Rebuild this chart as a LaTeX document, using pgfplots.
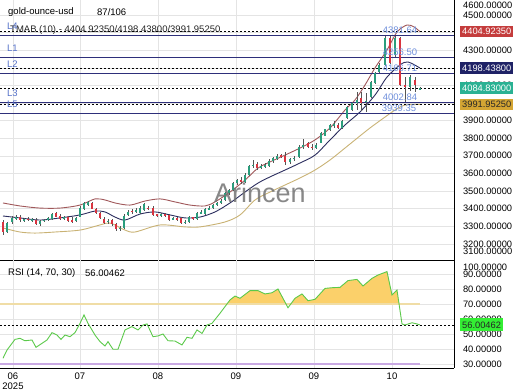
\documentclass[border=0pt]{standalone}
\usepackage{fontspec}
\setmainfont{Liberation Sans}
\usepackage{pgfplots}
\usepackage{pgfplotstable}
\pgfplotsset{compat=1.18}

\definecolor{candG}{HTML}{2A9D7C}
\definecolor{candR}{HTML}{D9343F}
\definecolor{wick}{HTML}{555555}
\definecolor{bandU}{HTML}{A0585A}
\definecolor{bandM}{HTML}{2B2D5E}
\definecolor{bandL}{HTML}{C9B274}
\definecolor{lvl}{HTML}{2E2F7A}
\definecolor{lbl}{HTML}{5470C8}
\definecolor{vlbl}{HTML}{6F8FDB}
\definecolor{gridc}{HTML}{E4E4E4}
\definecolor{rsiG}{HTML}{5BC94A}
\definecolor{rsiFill}{HTML}{FBD06A}
\definecolor{ob}{HTML}{F0DDA6}
\definecolor{os}{HTML}{C9A9E3}
\definecolor{boxR}{HTML}{C43C3C}
\definecolor{boxN}{HTML}{1F2266}
\definecolor{boxT}{HTML}{2AB193}
\definecolor{boxY}{HTML}{D4A533}
\definecolor{boxG}{HTML}{33EE33}

\pgfplotstableread{
x o h l c
7 3268 3325 3260 3318
12 3322 3358 3315 3345
16 3345 3365 3335 3352
24 3333 3348 3325 3340
32 3336 3346 3326 3338
40 3310 3338 3300 3330
44 3330 3342 3322 3335
48 3335 3352 3330 3345
52 3342 3375 3336 3368
64 3345 3360 3338 3350
76 3328 3352 3322 3345
80 3355 3412 3350 3405
84 3395 3440 3390 3430
88 3420 3445 3412 3435
108 3322 3340 3315 3332
120 3285 3300 3275 3290
124 3290 3368 3282 3360
128 3365 3392 3358 3380
136 3382 3402 3375 3392
140 3375 3412 3370 3405
144 3390 3432 3385 3425
161 3362 3375 3355 3368
173 3340 3355 3335 3345
185 3320 3335 3315 3325
189 3325 3358 3318 3350
197 3340 3382 3335 3375
201 3375 3390 3368 3380
205 3370 3402 3365 3395
209 3395 3412 3390 3405
213 3405 3428 3400 3420
217 3418 3440 3412 3432
221 3430 3452 3425 3445
225 3450 3495 3445 3488
229 3488 3512 3480 3505
233 3505 3550 3498 3545
237 3545 3570 3535 3560
245 3550 3600 3545 3590
249 3590 3650 3585 3640
253 3640 3675 3630 3650
261 3630 3655 3625 3640
265 3640 3658 3630 3645
269 3640 3680 3635 3670
273 3668 3692 3660 3685
277 3680 3708 3675 3700
290 3662 3690 3655 3680
294 3680 3700 3670 3690
299 3695 3760 3690 3750
303 3750 3795 3740 3760
316 3745 3770 3740 3760
321 3775 3835 3770 3830
325 3815 3855 3810 3850
330 3845 3880 3838 3875
334 3875 3895 3860 3878
342 3858 3905 3852 3900
347 3915 3985 3910 3977
352 3960 4005 3955 3999
357 4000 4060 3960 4017
366 4005 4055 3950 4012
371 4034 4125 4030 4119
375 4113 4175 4105 4170
379 4176 4225 4170 4216
385 4216 4378 4210 4369
395 4273 4381.64 4260 4369
410 4090 4160 4070 4148
420 4078 4092 4075 4084.83
}\greencandles

\pgfplotstableread{
x o h l c
3 3325 3335 3250 3268
20 3355 3362 3325 3333
28 3342 3350 3328 3336
36 3338 3345 3305 3312
56 3375 3380 3350 3355
60 3360 3368 3335 3340
68 3355 3360 3322 3330
72 3338 3350 3318 3325
92 3432 3440 3395 3400
96 3398 3405 3368 3375
100 3375 3380 3340 3345
104 3342 3350 3315 3320
112 3335 3340 3300 3310
116 3312 3318 3275 3285
132 3388 3400 3370 3382
148 3405 3415 3392 3398
153 3405 3412 3358 3365
157 3365 3372 3355 3362
165 3368 3375 3355 3360
169 3362 3368 3330 3335
177 3345 3352 3332 3342
181 3345 3350 3312 3320
193 3348 3355 3338 3345
241 3560 3578 3540 3550
257 3655 3662 3620 3630
281 3705 3712 3685 3695
285 3700 3720 3650 3662
308 3772 3780 3745 3750
312 3750 3765 3735 3745
338 3875 3885 3850 3858
361 4028 4060 3955 4000
390 4369 4380 4220 4227
400 4369 4375 4095 4102
405 4102 4150 4002.84 4090
415 4130 4145 4065 4100
}\redcandles

\pgfplotstableread{
x u
3 3432
20 3415
40 3403
60 3403
80 3420
95 3455
105 3449
115 3432
130 3420
145 3443
160 3455
175 3438
190 3420
205 3415
215 3438
230 3494
245 3562
258 3630
270 3665
285 3704
300 3744
315 3790
330 3858
345 3960
355 4017
365 4102
375 4199
387 4301
397 4403
407 4443
414 4432
420 4404.92
}\bandup

\pgfplotstableread{
x m
3 3358
20 3347
40 3335
60 3347
80 3364
95 3386
105 3381
115 3352
125 3335
140 3369
155 3381
170 3364
185 3347
200 3352
215 3381
230 3432
245 3494
258 3545
270 3580
285 3619
300 3659
315 3704
330 3790
345 3875
360 3949
375 4045
387 4147
400 4216
408 4233
420 4198.44
}\bandmid

\pgfplotstableread{
x d
3 3290
20 3267
35 3261
55 3267
80 3278
100 3307
110 3318
125 3278
135 3267
160 3307
185 3296
200 3296
225 3324
240 3364
255 3449
270 3494
285 3534
300 3574
315 3619
330 3676
345 3744
355 3790
370 3858
385 3920
395 3960
405 3988
420 3991.95
}\bandlow

\pgfplotstableread{
x r
3 33.8
7 39.3
15 46.4
20 47.1
25 45.5
32 46.0
36 41.1
42 43.8
47 46.0
52 50.9
57 49.3
61 46.4
65 49.3
70 48.2
75 50.9
80 57.1
84 62.7
88 57.1
95 49.3
100 44.9
105 42.0
108 44.9
113 39.8
118 39.8
125 52.7
132 54.9
135 53.8
138 52.7
143 56.0
147 56.7
153 48.2
158 48.7
163 50.0
168 45.5
175 45.3
182 42.7
187 47.8
192 47.1
197 52.7
202 50.4
207 56.0
212 57.1
220 63.8
230 72.7
235 75.3
240 73.8
250 78.9
258 78.9
265 76.7
272 77.5
278 80.0
288 67.5
295 73.8
302 76.7
308 72.2
315 73.1
325 80.4
333 80.9
340 81.1
348 85.6
357 86.4
363 82.0
372 87.1
378 89.3
387 91.6
392 76.0
397 79.3
402 56.7
405 56.0
412 57.5
417 56.7
420 56.00462
}\rsidata

\pgfplotsset{
  chartbase/.style={
    scale only axis, width=454pt, xmin=0, xmax=454,
    axis x line*=bottom, axis y line*=right,
    axis line style={black, line width=0.8pt},
    major tick length=0pt,
    grid=major, major grid style={gridc, line width=0.5pt},
    xtick={13,80,158,236,314,392},
    tick label style={font=\fontsize{9.3}{11}\selectfont},
    yticklabel style={xshift=5.5pt, anchor=west},
    /pgf/number format/.cd, fixed, fixed zerofill, precision=5, 1000 sep={}, assume math mode=true,
  },
  wickstyle/.style={draw=none, mark=none, forget plot,
    error bars/.cd, y dir=both, y explicit, error mark=none,
    error bar style={draw=wick, line width=0.6pt}},
}

\begin{document}
\begin{tikzpicture}
\path[use as bounding box] (0pt,0pt) rectangle (520pt,-390pt);

% ---------- main price panel ----------
\begin{axis}[chartbase, at={(0pt,0pt)}, anchor=north west, height=260pt,
  ymin=3108, ymax=4585, ytick={3200,3300,...,4500}, xticklabels={}]

% bands
\addplot[bandU, line width=0.9pt, smooth] table[x=x,y=u] {\bandup};
\addplot[bandM, line width=0.9pt, smooth] table[x=x,y=m] {\bandmid};
\addplot[bandL, line width=0.9pt, smooth] table[x=x,y=d] {\bandlow};

% level lines
\addplot[lvl, line width=1.1pt] coordinates {(0,4381.64) (454,4381.64)};
\addplot[lvl, line width=1.1pt] coordinates {(0,4256.50) (454,4256.50)};
\addplot[lvl, line width=1.1pt] coordinates {(0,4166.71) (454,4166.71)};
\addplot[lvl, line width=1.1pt] coordinates {(0,4002.84) (454,4002.84)};
\addplot[lvl, line width=1.1pt] coordinates {(0,3939.35) (454,3939.35)};
% dashed current-value lines
\addplot[black, line width=0.6pt, dash pattern=on 2pt off 2pt] coordinates {(0,4404.9235) (454,4404.9235)};
\addplot[black, line width=0.6pt, dash pattern=on 2pt off 2pt] coordinates {(0,4198.438) (454,4198.438)};
\addplot[black, line width=0.6pt, dash pattern=on 2pt off 2pt] coordinates {(0,4084.83) (454,4084.83)};
\addplot[black, line width=0.6pt, dash pattern=on 2pt off 2pt] coordinates {(0,3991.9525) (454,3991.9525)};

% candles: wicks
\addplot[wickstyle] table[x=x, y expr={(\thisrow{h}+\thisrow{l})/2}, y error expr={(\thisrow{h}-\thisrow{l})/2}] {\greencandles};
\addplot[wickstyle] table[x=x, y expr={(\thisrow{h}+\thisrow{l})/2}, y error expr={(\thisrow{h}-\thisrow{l})/2}] {\redcandles};
% candles: bodies
\addplot[draw=none, mark=none, forget plot, error bars/.cd, y dir=both, y explicit, error mark=none,
  error bar style={draw=candG, line width=2.8pt}]
  table[x=x, y expr={(\thisrow{o}+\thisrow{c})/2}, y error expr={max(abs(\thisrow{o}-\thisrow{c})/2,3)}] {\greencandles};
\addplot[draw=none, mark=none, forget plot, error bars/.cd, y dir=both, y explicit, error mark=none,
  error bar style={draw=candR, line width=2.8pt}]
  table[x=x, y expr={(\thisrow{o}+\thisrow{c})/2}, y error expr={max(abs(\thisrow{o}-\thisrow{c})/2,3)}] {\redcandles};

\coordinate (L4) at (axis cs:7,4381.64);
\coordinate (L1) at (axis cs:7,4256.50);
\coordinate (L2) at (axis cs:7,4166.71);
\coordinate (L3) at (axis cs:7,4002.84);
\coordinate (L5) at (axis cs:7,3939.35);
\coordinate (V4) at (axis cs:400,4381.64);
\coordinate (V1) at (axis cs:400,4256.50);
\coordinate (V2) at (axis cs:400,4166.71);
\coordinate (V3) at (axis cs:400,4002.84);
\coordinate (V5) at (axis cs:399,3939.35);
\coordinate (BU) at (axis cs:454,4404.9235);
\coordinate (BM) at (axis cs:454,4198.438);
\coordinate (BC) at (axis cs:454,4084.83);
\coordinate (BL) at (axis cs:454,3991.9525);
\end{axis}

% ---------- RSI panel ----------
\begin{axis}[chartbase, at={(0pt,-260pt)}, anchor=north west, height=108pt,
  ymin=27.33, ymax=99.33, ytick={30,40,...,90},
  xticklabels={06,07,08,09,09,10},
  xticklabel style={font=\fontsize{9.5}{11}\selectfont, yshift=-1pt}]
\addplot[rsiFill, fill=rsiFill, draw=none, forget plot] coordinates {
(227,70) (230,72.7) (235,75.3) (240,73.8) (250,78.9) (258,78.9) (265,76.7) (272,77.5) (278,80.0) (286,70)};
\addplot[rsiFill, fill=rsiFill, draw=none, forget plot] coordinates {
(291,70) (295,73.8) (302,76.7) (308,72.2) (315,73.1) (325,80.4) (333,80.9) (340,81.1) (348,85.6) (357,86.4) (363,82.0) (372,87.1) (378,89.3) (387,91.6) (392,76.0) (397,79.3) (399,70)};
\addplot[ob, line width=1.2pt] coordinates {(0,70) (420,70)};
\addplot[os, line width=1.6pt] coordinates {(0,30) (420,30)};
\addplot[black, line width=0.6pt, dash pattern=on 2pt off 2pt] coordinates {(0,56.00462) (454,56.00462)};
\addplot[rsiG, line width=0.9pt] table[x=x,y=r] {\rsidata};
\coordinate (BR) at (axis cs:454,56.00462);
\end{axis}

% ---------- texts ----------
\begin{scope}[every node/.style={font=\fontsize{9.5}{11}\selectfont, inner sep=0pt}]
\node[anchor=west] at (8pt,-12pt) {gold-ounce-usd};
\node[anchor=west] at (97pt,-12pt) {87/106};
\node[anchor=west, text=black!85] at (10pt,-30pt) {TMAB (10) - 4404.92350/4198.43800/3991.95250};
\node[anchor=west] at (8pt,-273pt) {RSI (14, 70, 30)};
\node[anchor=west] at (85pt,-273pt) {56.00462};
\node[anchor=base] at (13pt,-389pt) {2025};
\foreach \n in {L4,L1,L2,L3,L5}{
  \node[anchor=base west, text=lbl, yshift=6pt] at (\n) {\n};
}
\node[anchor=base, text=vlbl, yshift=2pt] at (V4) {4381.64};
\node[anchor=base, text=vlbl, yshift=2pt] at (V1) {4256.50};
\node[anchor=base, text=vlbl, yshift=2pt] at (V2) {4166.71};
\node[anchor=base, text=vlbl, yshift=2pt] at (V3) {4002.84};
\node[anchor=base, text=vlbl, yshift=2pt] at (V5) {3939.35};
\end{scope}

\node[font=\fontsize{27}{30}\selectfont, text=black!55, opacity=0.85] at (260pt,-193pt) {Arincen};

% clamped edge tick labels
\begin{scope}[every node/.style={font=\fontsize{9.3}{11}\selectfont, anchor=west, inner sep=0pt}]
\node at (463pt,-5pt) {4600.00000};
\node at (463pt,-251pt) {3100.00000};
\node at (463pt,-267pt) {100.00000};
\end{scope}

% value boxes
\begin{scope}[every node/.style={font=\fontsize{9.3}{11}\selectfont, anchor=west, inner xsep=2pt, inner ysep=0pt, minimum height=11.5pt}]
\node[fill=boxR, text=white, xshift=6pt] at (BU) {4404.92350};
\node[fill=boxN, text=white, xshift=6pt] at (BM) {4198.43800};
\node[fill=boxT, text=white, xshift=6pt] at (BC) {4084.83000};
\node[fill=boxY, text=black!85, xshift=6pt] at (BL) {3991.95250};
\node[fill=boxG, text=black!85, xshift=6pt, minimum height=13pt] at (BR) {56.00462};
\end{scope}
\end{tikzpicture}
\end{document}
